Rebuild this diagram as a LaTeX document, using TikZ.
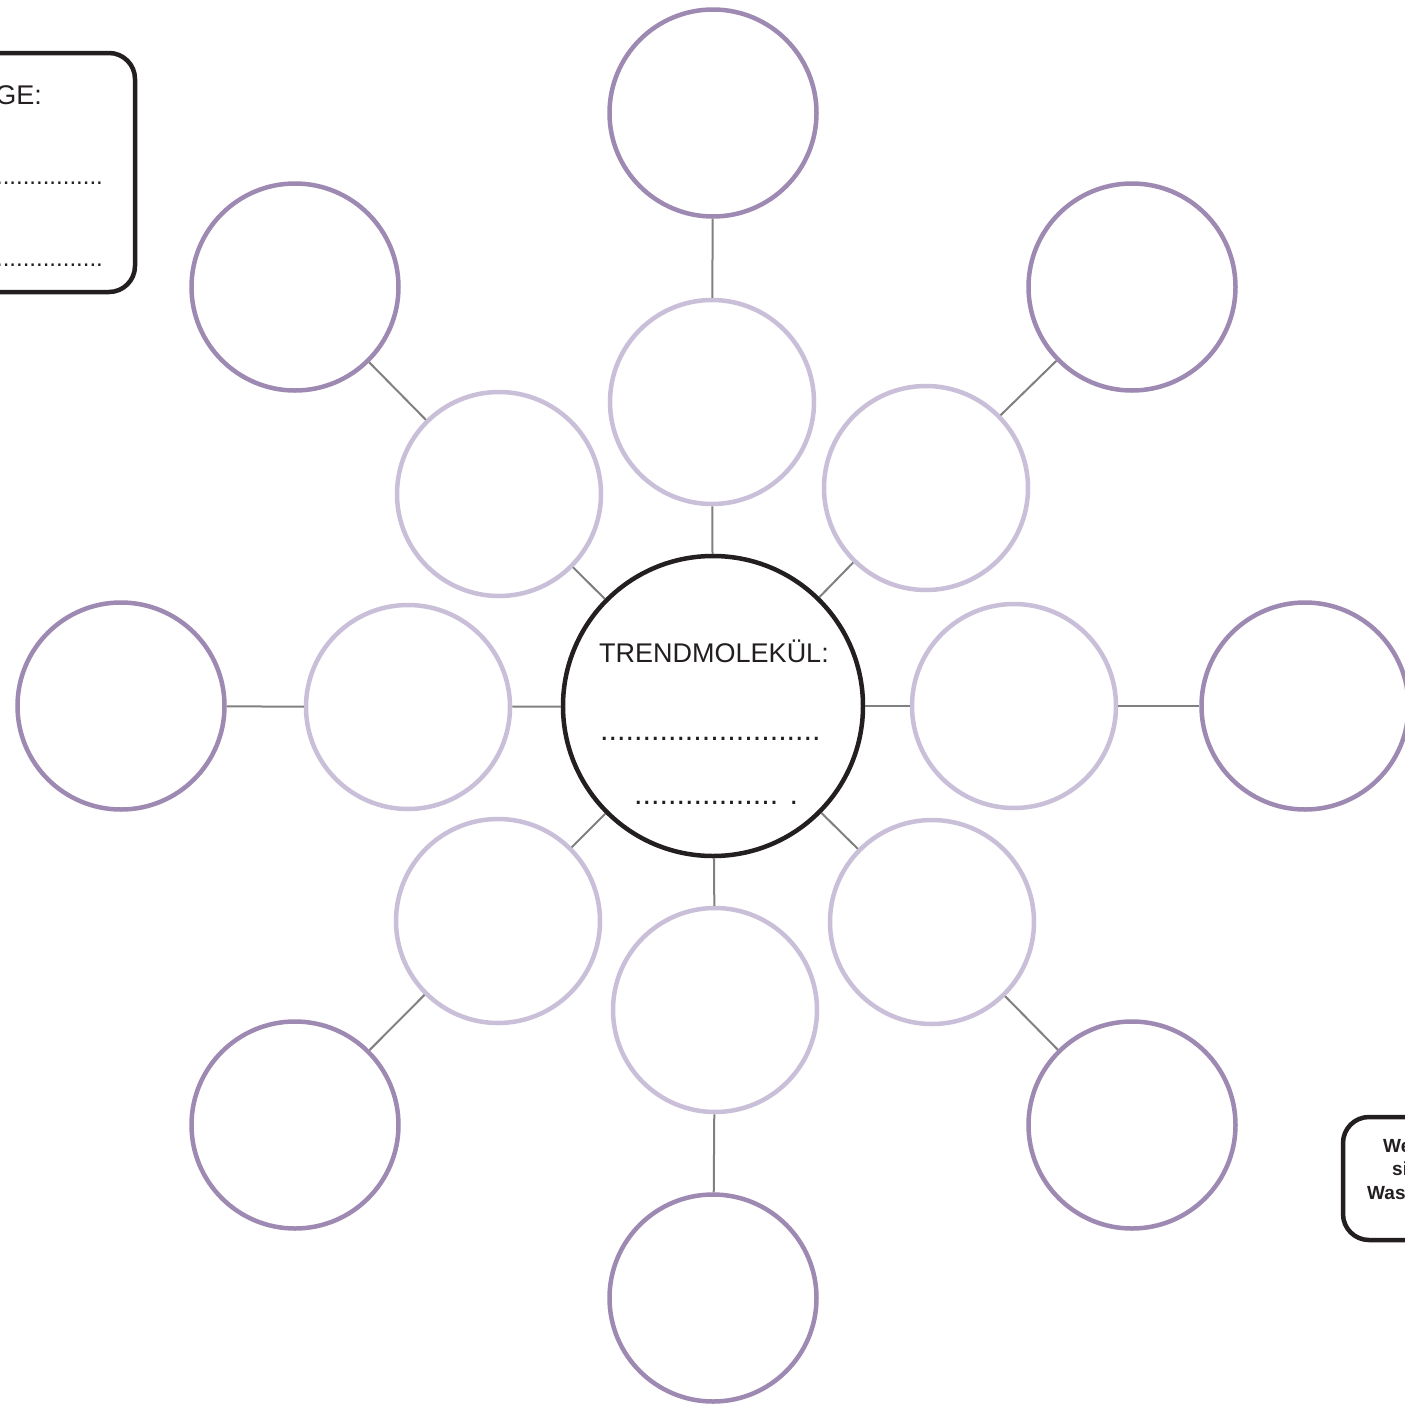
\documentclass[tikz,border=0pt]{standalone}
\usepackage{fontspec}
\setmainfont{Liberation Sans}
\definecolor{outerc}{HTML}{9D89B2}
\definecolor{innerc}{HTML}{C9BFD8}
\definecolor{inkc}{HTML}{231F20}
\definecolor{linkc}{HTML}{808080}
\begin{document}
\begin{tikzpicture}[x=1pt,y=-1pt,
  outerbub/.style={circle,draw=outerc,line width=4.5pt,minimum size=207pt,inner sep=0pt},
  innerbub/.style={circle,draw=innerc,line width=4.5pt,minimum size=204pt,inner sep=0pt,fill=white},
  centerbub/.style={circle,draw=inkc,line width=4.5pt,minimum size=300pt,inner sep=0pt,fill=white},
  link/.style={draw=linkc,line width=2pt},
  infobox/.style={draw=inkc,line width=4.5pt,rounded corners=26pt},
  lbl/.style={inner sep=0pt,text=inkc,font=\fontsize{27}{30}\selectfont},
  dots/.style={inner sep=0pt,text=inkc,font=\fontsize{30.5}{30}\selectfont},
  smalldots/.style={inner sep=0pt,text=inkc,font=\fontsize{24}{24}\selectfont},
  boldlbl/.style={inner sep=0pt,text=inkc,font=\bfseries\fontsize{19}{22}\selectfont}]
\useasboundingbox (0,0) rectangle (1405,1406);
\clip (0,0) rectangle (1405,1406);
\fill[white] (0,0) rectangle (1405,1406);
% centre
\node[centerbub] (c) at (713,706) {};
% inner ring
\node[innerbub] (iN)  at (712,402) {};
\node[innerbub] (iNW) at (499,494) {};
\node[innerbub] (iNE) at (926,488) {};
\node[innerbub] (iW)  at (408,707) {};
\node[innerbub] (iE)  at (1014,706) {};
\node[innerbub] (iSW) at (498,921) {};
\node[innerbub] (iSE) at (932,922) {};
\node[innerbub] (iS)  at (715,1010) {};
% outer ring
\node[outerbub] (oN)  at (713,113) {};
\node[outerbub] (oNW) at (295,287) {};
\node[outerbub] (oNE) at (1132,287) {};
\node[outerbub] (oW)  at (121,706) {};
\node[outerbub] (oE)  at (1305,706) {};
\node[outerbub] (oSW) at (295,1125) {};
\node[outerbub] (oSE) at (1132,1125) {};
\node[outerbub] (oS)  at (713,1298) {};
% connectors
\foreach \d in {N,NW,NE,W,E,SW,SE,S}{
  \draw[link] (c) -- (i\d);
  \draw[link] (i\d) -- (o\d);
}
% centre text
\node[lbl,anchor=base] (title) at (714,662) {TRENDMOLEKÜL:};
\node[dots,anchor=base west] (d1) at (600,740) {..........................};
\node[dots,anchor=base west] (d2) at (634,804) {................. .};
% top-left box
\draw[infobox] (-40,53) rectangle (135,292);
\node[lbl,anchor=base east] (frage) at (42,104) {GE:};
\node[smalldots,anchor=base east] (b1) at (103,184) {................};
\node[smalldots,anchor=base east] (b2) at (103,266) {................};
% bottom-right box
\draw[infobox] (1343,1117) rectangle (1480,1240);
\node[boldlbl,anchor=base west] (w1) at (1383,1152) {We};
\node[boldlbl,anchor=base west] (w2) at (1392,1175) {si};
\node[boldlbl,anchor=base west] (w3) at (1367,1199) {Was};
\end{tikzpicture}
\end{document}
